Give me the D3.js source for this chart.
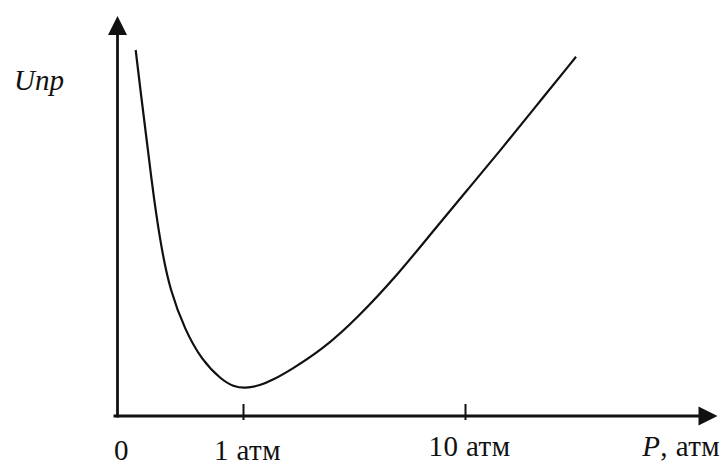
<!DOCTYPE html>
<html>
<head>
<meta charset="utf-8">
<script src="https://cdn.jsdelivr.net/npm/d3@7"></script>
<style>
  body { margin: 0; background: #fff; }
</style>
</head>
<body>
<svg width="724" height="465"></svg>
<script>
// breakdown voltage vs pressure, arbitrary units 0..100 on both axes
var curveP = [3.03, 3.92, 4.87, 6.08, 7.37, 8.75, 11.25, 14.03, 17.37, 19.3, 21.25, 23.75, 26, 28.75, 34.3, 39.87, 47.08, 52.63, 58.2, 63.75, 69.3, 76.42];
var curveU = [91.5, 80.25, 69, 54, 41.5, 31.5, 21.5, 14, 9, 7.4, 6.9, 7.6, 9.1, 11.4, 16.8, 24.3, 36, 46.3, 56.3, 66.3, 76.6, 89.8];

var tickPos = [0, 21, 58];
var tickLabels = ["0", "1 атм", "10 атм"];

var serif = "'Liberation Serif', 'Times New Roman', 'DejaVu Serif', serif";

const svg = d3.select("svg"),
  width = +svg.attr("width"),
  height = +svg.attr("height");

var x = d3.scaleLinear().domain([0, 100]).range([117.5, 717.5]);
var y = d3.scaleLinear().domain([0, 100]).range([416, 16]);

// axes
svg.append("line")
  .attr("x1", x(0) - 4).attr("y1", y(0))
  .attr("x2", x(100) - 16).attr("y2", y(0))
  .style("stroke", "#111").style("stroke-width", 2.8);

svg.append("path")
  .attr("d", "M" + x(100) + "," + y(0) + "L" + (x(100) - 19) + "," + (y(0) - 9.5) + "L" + (x(100) - 19) + "," + (y(0) + 9.5) + "Z")
  .style("fill", "#111");

svg.append("line")
  .attr("x1", x(0)).attr("y1", y(0) + 1.4)
  .attr("x2", x(0)).attr("y2", y(100) + 16)
  .style("stroke", "#111").style("stroke-width", 2.8);

svg.append("path")
  .attr("d", "M" + x(0) + "," + y(100) + "L" + (x(0) - 9.5) + "," + (y(100) + 19) + "L" + (x(0) + 9.5) + "," + (y(100) + 19) + "Z")
  .style("fill", "#111");

// ticks
svg.selectAll(".tick")
  .data(tickPos.slice(1))
  .enter().append("line")
  .attr("class", "tick")
  .attr("x1", d => x(d)).attr("x2", d => x(d))
  .attr("y1", y(0) - 12).attr("y2", y(0) + 4)
  .style("stroke", "#111").style("stroke-width", 2);

svg.selectAll(".tlabel")
  .data(tickPos)
  .enter().append("text")
  .attr("class", "tlabel")
  .attr("x", d => x(d) + 4)
  .attr("y", (d, i) => i == 2 ? 456 : 460)
  .attr("text-anchor", "middle")
  .style("font-family", serif)
  .style("font-size", "29px")
  .style("letter-spacing", "0.4px")
  .style("fill", "#111")
  .text((d, i) => tickLabels[i]);

// axis titles
svg.append("text")
  .attr("x", 14).attr("y", 90)
  .style("font-family", serif)
  .style("font-size", "29px")
  .style("font-style", "italic")
  .style("fill", "#111")
  .text("Uпр");

var xt = svg.append("text")
  .attr("x", 720).attr("y", 456)
  .attr("text-anchor", "end")
  .style("font-family", serif)
  .style("font-size", "29px")
  .style("letter-spacing", "0.4px")
  .style("fill", "#111");
xt.append("tspan").style("font-style", "italic").text("P");
xt.append("tspan").text(", атм");

// curve
var pts = curveP.map((p, i) => [p, curveU[i]]);
var line = d3.line()
  .x(d => x(d[0]))
  .y(d => y(d[1]))
  .curve(d3.curveBasis);

svg.append("path")
  .datum(pts)
  .attr("d", line)
  .style("fill", "none")
  .style("stroke", "#111")
  .style("stroke-width", 2.2);
</script>
</body>
</html>
